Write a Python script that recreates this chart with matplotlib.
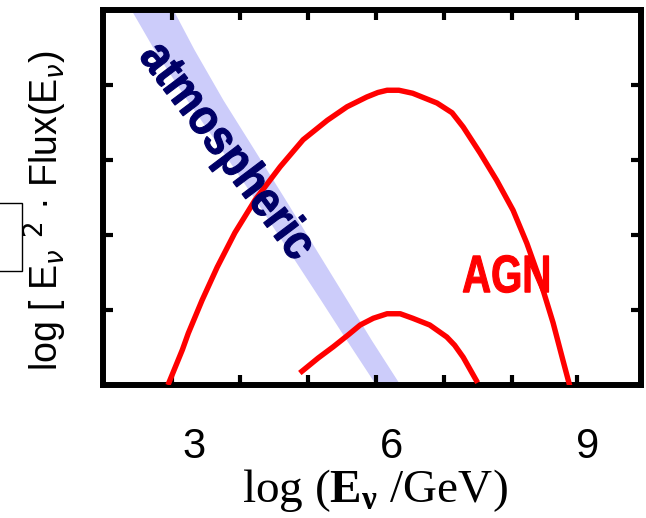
import numpy as np
import matplotlib
matplotlib.use("Agg")
import matplotlib.pyplot as plt
import matplotlib.transforms as mtransforms
from matplotlib.patches import Rectangle, PathPatch
from matplotlib.textpath import TextPath
from matplotlib.font_manager import FontProperties

# big AGN curve (log E, log E^2 flux)
agn_x = [2.60, 2.82, 2.91, 3.12, 3.35, 3.62, 3.93, 4.31, 4.66, 5.03, 5.33, 5.63, 5.80,
         5.94, 6.12, 6.33, 6.70, 6.93, 7.10, 7.36, 7.61, 7.86, 8.07, 8.27, 8.47, 8.62, 8.73]
agn_y = [0.00, 0.47, 0.69, 1.13, 1.57, 2.03, 2.47, 2.91, 3.27, 3.53, 3.71, 3.84, 3.90,
         3.93, 3.93, 3.89, 3.76, 3.63, 3.44, 3.09, 2.73, 2.33, 1.89, 1.40, 0.83, 0.33, -0.03]

# small AGN curve
agn2_x = [4.61, 4.89, 5.12, 5.35, 5.53, 5.73, 5.94, 6.14, 6.33, 6.59, 6.85, 6.97, 7.10, 7.32]
agn2_y = [0.16, 0.36, 0.51, 0.67, 0.80, 0.89, 0.95, 0.95, 0.89, 0.80, 0.64, 0.53, 0.37, 0.03]

# atmospheric band: y level, left and right edge in log E
atm_y = [5.0, 4.47, 3.8, 3.13, 2.47, 1.8, 1.13, 0.6, 0.0]
atm_lo = [2.04, 2.39, 2.89, 3.42, 3.93, 4.43, 4.93, 5.32, 5.77]
atm_hi = [2.68, 3.00, 3.44, 3.92, 4.39, 4.86, 5.33, 5.70, 6.14]

xtick_vals = [3, 6, 9]
xminor = [2.66, 3.70, 4.74, 5.77, 6.81, 7.85, 8.83]
yminor = [1, 2, 3, 4]

plt.rcParams['mathtext.fontset'] = 'custom'
plt.rcParams['mathtext.rm'] = 'Liberation Serif'
plt.rcParams['mathtext.bf'] = 'Liberation Serif:bold'

fig = plt.figure(figsize=(6.46, 5.18), dpi=100)
ax = fig.add_axes([103/646, 1 - 385/518, (641 - 103)/646, (385 - 10)/518])


def narrow_label(x, y, s, size, sx, rot, color):
    # bold sans text squeezed horizontally, centred on (x, y) in data units
    tp = TextPath((0, 0), s, size=size,
                  prop=FontProperties(family='Liberation Sans', weight='bold'))
    bb = tp.get_extents()
    px, py = ax.transData.transform((x, y))
    k = fig.dpi / 72
    tr = (mtransforms.Affine2D()
          .translate(-(bb.x0 + bb.x1) / 2, -(bb.y0 + bb.y1) / 2)
          .scale(sx * k, k).rotate_deg(rot).translate(px, py))
    fig.add_artist(PathPatch(tp, transform=tr, facecolor=color, edgecolor=color,
                             lw=0.8, zorder=4))


ax.set_xlim(1.61, 9.81)
ax.set_ylim(0, 5)

ax.fill_betweenx(atm_y, atm_lo, atm_hi, color='#ccccfa', lw=0, zorder=1)
ax.plot(agn_x, agn_y, color='red', lw=3.9, zorder=3, solid_capstyle='butt')
ax.plot(agn2_x, agn2_y, color='red', lw=3.9, zorder=3, solid_capstyle='butt')

narrow_label(3.49, 3.11, 'atmospheric', 36, 0.87, -53, '#000066')
narrow_label(7.75, 1.48, 'AGN', 38, 0.76, 0, 'red')

ax.set_xticks(xtick_vals)
ax.set_xticklabels([str(v) for v in xtick_vals], family='Liberation Sans', fontsize=30)
ax.set_xticks(xminor, minor=True)
ax.set_yticks([])
ax.set_yticks(yminor, minor=True)
ax.tick_params(axis='x', which='major', length=0, pad=30)
ax.tick_params(which='minor', direction='in', length=7, width=3,
               top=True, right=True, bottom=True, left=True)
for s in ax.spines.values():
    s.set_linewidth(4.3)

fig.text(45/646, 1 - 211/518, r'log [ E$_{\nu}$ $^{2}$ · Flux(E$_{\nu}$)',
         rotation=90, ha='center', va='center', fontsize=27,
         family='Liberation Sans', math_fontfamily='dejavusans')
fig.text(375/646, 1 - 491/518, r'log ($\mathbf{E}_{\mathbf{ν}}$ /GeV)',
         ha='center', va='center', fontsize=34, family='Liberation Serif')

# leftover bracket piece at the left edge
fig.add_artist(Rectangle((-0.05, 1 - 271/518), 0.05 + 22/646, 68/518,
                         transform=fig.transFigure, fill=False, lw=1.0,
                         edgecolor='black', clip_on=False))

fig.savefig('out.png', dpi=100)
